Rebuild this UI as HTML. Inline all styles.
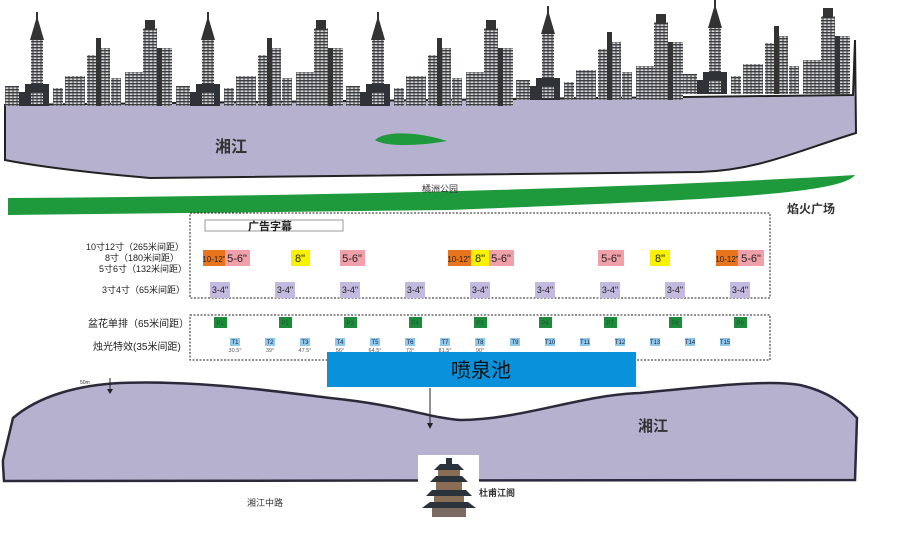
<!DOCTYPE html>
<html><head><meta charset="utf-8"><style>
body{margin:0;width:900px;height:552px;background:#fff;overflow:hidden;font-family:"Liberation Sans","Noto Sans CJK SC",sans-serif}
svg{position:absolute;left:0;top:0}
</style></head><body>
<svg width="900" height="552" viewBox="0 0 900 552" font-family="Liberation Sans, Noto Sans CJK SC, sans-serif">
<defs>
<pattern id="win" width="4" height="3" patternUnits="userSpaceOnUse"><rect width="4" height="3" fill="#3a3d42"/><rect x="0.5" y="0.4" width="3" height="1.6" fill="#d8d8d8"/></pattern>
<g id="sky">
<rect x="0" y="86" width="14" height="20" fill="url(#win)"/>
<rect x="14" y="92" width="6" height="14" fill="#2f3236"/>
<rect x="26" y="38" width="12" height="50" fill="url(#win)"/><polygon points="25,40 32,16 39,40" fill="#333"/><rect x="31" y="12" width="2" height="8" fill="#333"/>
<rect x="20" y="84" width="24" height="22" fill="#2f3236"/><rect x="26" y="92" width="12" height="12" fill="url(#win)"/>
<rect x="48" y="88" width="10" height="18" fill="url(#win)"/>
<rect x="60" y="76" width="20" height="30" fill="url(#win)"/>
<rect x="82" y="55" width="10" height="51" fill="url(#win)"/><rect x="91" y="38" width="5" height="68" fill="#333"/>
<rect x="96" y="48" width="9" height="58" fill="url(#win)"/>
<rect x="106" y="78" width="10" height="28" fill="url(#win)"/>
<rect x="120" y="72" width="18" height="34" fill="url(#win)"/>
<rect x="138" y="28" width="14" height="78" fill="url(#win)"/><rect x="140" y="20" width="10" height="10" fill="#333"/>
<rect x="152" y="48" width="5" height="58" fill="#333"/>
<rect x="157" y="48" width="10" height="58" fill="url(#win)"/>
</g>
</defs>
<!-- top river -->
<path d="M5 105 L853 95 L855 40 L856 133 C800 150 760 170 700 172 L150 178 C80 172 30 165 5 160 Z" fill="#b7b1d0" stroke="#222" stroke-width="2"/>
<use href="#sky" x="5" y="0"/><use href="#sky" x="176" y="0"/><use href="#sky" x="346" y="0"/><use href="#sky" x="516" y="-6"/><use href="#sky" x="683" y="-12"/>
<path d="M375 140 C385 130 420 132 447 141 C420 146 385 147 375 140Z" fill="#1e9a3c"/>
<text x="215" y="152" font-size="16" font-weight="bold" fill="#333">湘江</text>
<!-- green park -->
<path d="M8 198 C300 196 600 190 855 175 C840 195 700 200 450 210 L8 215 Z" fill="#1e9a3c"/>
<text x="422" y="192" font-size="9" fill="#333">橘洲公园</text>
<text x="787" y="213" font-size="12" font-weight="bold" fill="#333">焰火广场</text>
<!-- dotted boxes -->
<rect x="190" y="213" width="580" height="85" fill="none" stroke="#222" stroke-dasharray="2,1.5"/>
<rect x="190" y="315" width="580" height="45" fill="none" stroke="#222" stroke-dasharray="2,1.5"/>
<rect x="205" y="220" width="138" height="11" fill="#fff" stroke="#999"/>
<text x="248" y="230" font-size="11" font-weight="bold" fill="#222">广告字幕</text>
<g font-size="9" fill="#222">
<text x="86" y="250">10寸12寸（265米间距）</text>
<text x="105" y="261">8寸（180米间距）</text>
<text x="99" y="272">5寸6寸（132米间距）</text>
<text x="102" y="293">3寸4寸（65米间距）</text>
<text x="88" y="327" font-size="10">盆花单排（65米间距）</text>
<text x="93" y="350" font-size="10">烛光特效(35米间距)</text>
</g>
<g font-size="11" fill="#222" text-anchor="middle">
<rect x="203" y="250" width="22" height="16" fill="#e8751d"/><text x="214" y="262" font-size="8">10-12"</text>
<rect x="225" y="250" width="25" height="16" fill="#f0a0a8"/><text x="237" y="262">5-6"</text>
<rect x="291" y="250" width="19" height="16" fill="#f8f200"/><text x="300" y="262">8"</text>
<rect x="340" y="250" width="25" height="16" fill="#f0a0a8"/><text x="352" y="262">5-6"</text>
<rect x="448" y="250" width="23" height="16" fill="#e8751d"/><text x="459" y="262" font-size="8">10-12"</text>
<rect x="471" y="250" width="18" height="16" fill="#f8f200"/><text x="480" y="262">8"</text>
<rect x="489" y="250" width="25" height="16" fill="#f0a0a8"/><text x="501" y="262">5-6"</text>
<rect x="598" y="250" width="26" height="16" fill="#f0a0a8"/><text x="611" y="262">5-6"</text>
<rect x="650" y="250" width="20" height="16" fill="#f8f200"/><text x="660" y="262">8"</text>
<rect x="716" y="250" width="22" height="16" fill="#e8751d"/><text x="727" y="262" font-size="8">10-12"</text>
<rect x="738" y="250" width="26" height="16" fill="#f0a0a8"/><text x="751" y="262">5-6"</text>
</g>
<g font-size="9" fill="#222" text-anchor="middle">
<rect x="210" y="282" width="20" height="16" fill="#c4b9de"/><text x="220" y="293">3-4"</text>
<rect x="275" y="282" width="20" height="16" fill="#c4b9de"/><text x="285" y="293">3-4"</text>
<rect x="340" y="282" width="20" height="16" fill="#c4b9de"/><text x="350" y="293">3-4"</text>
<rect x="405" y="282" width="20" height="16" fill="#c4b9de"/><text x="415" y="293">3-4"</text>
<rect x="470" y="282" width="20" height="16" fill="#c4b9de"/><text x="480" y="293">3-4"</text>
<rect x="535" y="282" width="20" height="16" fill="#c4b9de"/><text x="545" y="293">3-4"</text>
<rect x="600" y="282" width="20" height="16" fill="#c4b9de"/><text x="610" y="293">3-4"</text>
<rect x="665" y="282" width="20" height="16" fill="#c4b9de"/><text x="675" y="293">3-4"</text>
<rect x="730" y="282" width="20" height="16" fill="#c4b9de"/><text x="740" y="293">3-4"</text>
</g>
<g font-size="6" fill="#1a5a2a" text-anchor="middle">
<rect x="214" y="317" width="13" height="11" fill="#1e8a3c"/><text x="220" y="325">P1</text>
<rect x="279" y="317" width="13" height="11" fill="#1e8a3c"/><text x="285" y="325">P2</text>
<rect x="344" y="317" width="13" height="11" fill="#1e8a3c"/><text x="350" y="325">P3</text>
<rect x="409" y="317" width="13" height="11" fill="#1e8a3c"/><text x="415" y="325">P4</text>
<rect x="474" y="317" width="13" height="11" fill="#1e8a3c"/><text x="480" y="325">P5</text>
<rect x="539" y="317" width="13" height="11" fill="#1e8a3c"/><text x="545" y="325">P6</text>
<rect x="604" y="317" width="13" height="11" fill="#1e8a3c"/><text x="610" y="325">P7</text>
<rect x="669" y="317" width="13" height="11" fill="#1e8a3c"/><text x="675" y="325">P8</text>
<rect x="734" y="317" width="13" height="11" fill="#1e8a3c"/><text x="740" y="325">P9</text>
</g>
<g font-size="6" fill="#224" text-anchor="middle">
<rect x="230" y="338" width="10" height="8" fill="#8ec9ec"/><text x="235" y="344">T1</text>
<rect x="265" y="338" width="10" height="8" fill="#8ec9ec"/><text x="270" y="344">T2</text>
<rect x="300" y="338" width="10" height="8" fill="#8ec9ec"/><text x="305" y="344">T3</text>
<rect x="335" y="338" width="10" height="8" fill="#8ec9ec"/><text x="340" y="344">T4</text>
<rect x="370" y="338" width="10" height="8" fill="#8ec9ec"/><text x="375" y="344">T5</text>
<rect x="405" y="338" width="10" height="8" fill="#8ec9ec"/><text x="410" y="344">T6</text>
<rect x="440" y="338" width="10" height="8" fill="#8ec9ec"/><text x="445" y="344">T7</text>
<rect x="475" y="338" width="10" height="8" fill="#8ec9ec"/><text x="480" y="344">T8</text>
<rect x="510" y="338" width="10" height="8" fill="#8ec9ec"/><text x="515" y="344">T9</text>
<rect x="545" y="338" width="10" height="8" fill="#8ec9ec"/><text x="550" y="344">T10</text>
<rect x="580" y="338" width="10" height="8" fill="#8ec9ec"/><text x="585" y="344">T11</text>
<rect x="615" y="338" width="10" height="8" fill="#8ec9ec"/><text x="620" y="344">T12</text>
<rect x="650" y="338" width="10" height="8" fill="#8ec9ec"/><text x="655" y="344">T13</text>
<rect x="685" y="338" width="10" height="8" fill="#8ec9ec"/><text x="690" y="344">T14</text>
<rect x="720" y="338" width="10" height="8" fill="#8ec9ec"/><text x="725" y="344">T15</text>
<g fill="#555" font-size="5.5">
<text x="235" y="352">30.5°</text><text x="270" y="352">39°</text><text x="305" y="352">47.5°</text><text x="340" y="352">56°</text><text x="375" y="352">64.5°</text><text x="410" y="352">73°</text><text x="445" y="352">81.5°</text><text x="480" y="352">90°</text>
</g>
</g>
<!-- lower river -->
<path d="M3 465 L3 460 L13 418 C40 395 80 385 120 383 C200 380 280 392 330 398 C400 405 430 418 460 420 C520 420 580 395 640 393 C720 385 770 380 800 385 C830 392 845 405 857 418 L855 480 L4 481 Z" fill="#b7b1d0" stroke="#2c2a3a" stroke-width="2.5"/>
<rect x="327" y="352" width="309" height="35" fill="#0a91dc"/>
<text x="481" y="377" font-size="20" fill="#111" text-anchor="middle">喷泉池</text>
<text x="80" y="384" font-size="5" fill="#333">50m</text>
<line x1="110" y1="378" x2="110" y2="390" stroke="#222"/><polygon points="107,389 113,389 110,394" fill="#222"/>
<line x1="430" y1="388" x2="430" y2="424" stroke="#222"/><polygon points="427,423 433,423 430,429" fill="#222"/>
<text x="638" y="431" font-size="15" font-weight="bold" fill="#333">湘江</text>
<!-- pagoda -->
<rect x="418" y="455" width="61" height="63" fill="#fff"/>
<g fill="#2a333c">
<polygon points="434,470 464,470 458,464 440,464"/><rect x="446" y="458" width="6" height="6"/>
<polygon points="430,482 468,482 462,476 436,476"/><rect x="438" y="470" width="22" height="6" fill="#8a6d55"/>
<polygon points="426,496 472,496 466,490 432,490"/><rect x="436" y="482" width="26" height="8" fill="#8a6d55"/>
<polygon points="422,508 476,508 468,502 430,502"/><rect x="434" y="496" width="30" height="6" fill="#8a6d55"/>
<rect x="432" y="508" width="34" height="9" fill="#7a6a60"/>
</g>
<text x="479" y="496" font-size="9" font-weight="bold" fill="#333">杜甫江阁</text>
<text x="247" y="506" font-size="9" fill="#333">湘江中路</text>
</svg>
</body></html>
